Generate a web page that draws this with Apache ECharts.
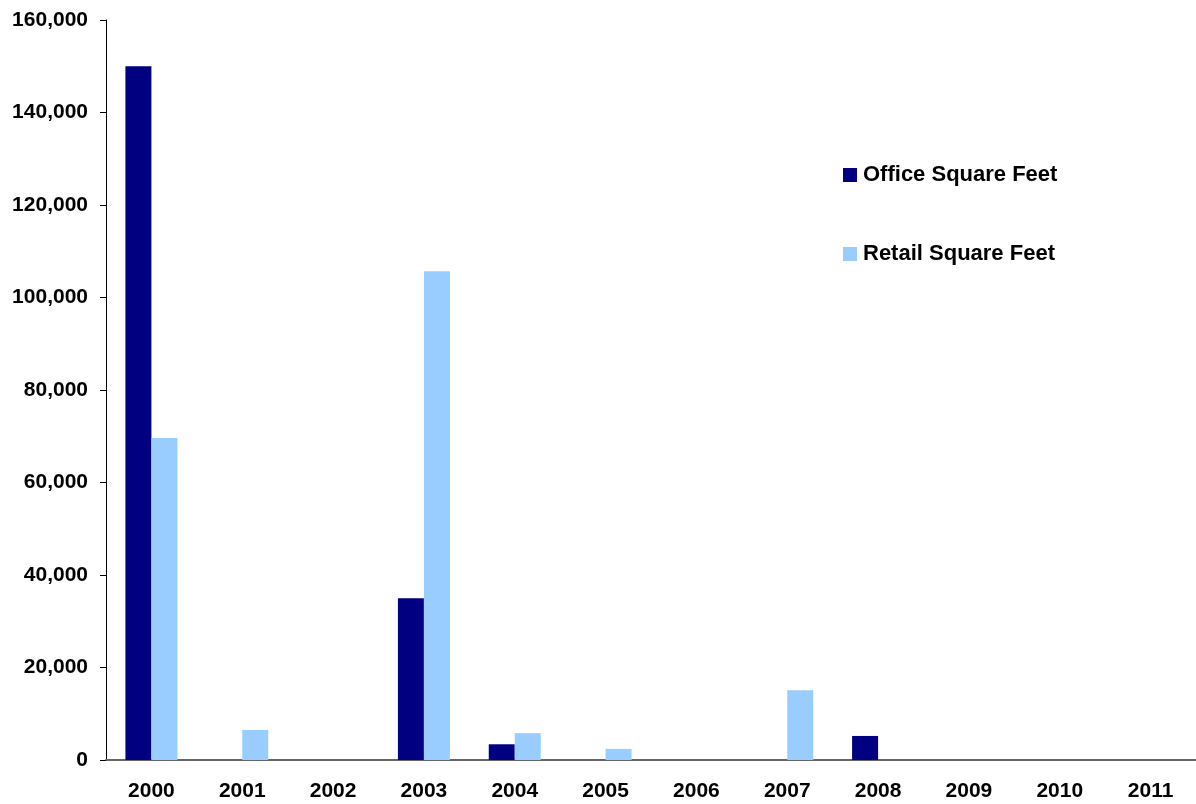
<!DOCTYPE html>
<html>
<head>
<meta charset="utf-8">
<script src="https://cdn.jsdelivr.net/npm/echarts@6/dist/echarts.min.js"></script>
<style>
  html, body { margin: 0; padding: 0; background: #fff; }
  #chart { width: 1196px; height: 804px; }
</style>
</head>
<body>
<div id="chart"></div>
<script>
// years on the x axis
var years = ['2000', '2001', '2002', '2003', '2004', '2005', '2006', '2007', '2008', '2009', '2010', '2011'];
// square feet per year
var office_sf = [150000, 0, 0, 35000, 3400, 0, 0, 0, 5200, 0, 0, 0];
var retail_sf = [69600, 6500, 0, 105700, 5800, 2400, 0, 15100, 0, 0, 0, 0];

var font = 'Liberation Sans, Arial, sans-serif';

function commas(v) {
    return String(v).replace(/\B(?=(\d{3})+(?!\d))/g, ',');
}

var option = {
    backgroundColor: '#fff',
    animation: false,
    grid: {
        left: 106,
        right: -6,
        top: 20,
        bottom: 44
    },
    legend: {
        orient: 'vertical',
        left: 843,
        top: 164,
        padding: 0,
        itemGap: 57,
        itemWidth: 14,
        itemHeight: 14,
        icon: 'rect',
        textStyle: {
            fontFamily: font,
            fontWeight: 'bold',
            fontSize: 22,
            color: '#000',
            padding: [0, 0, 0, 1]
        },
        data: ['Office Square Feet', 'Retail Square Feet']
    },
    xAxis: {
        type: 'category',
        data: years,
        axisLine: { lineStyle: { color: '#666', width: 2 } },
        axisTick: { show: false },
        axisLabel: {
            fontFamily: font,
            fontWeight: 'bold',
            fontSize: 21,
            color: '#000',
            margin: 21
        }
    },
    yAxis: {
        type: 'value',
        min: 0,
        max: 160000,
        interval: 20000,
        splitLine: { show: false },
        axisLine: { show: true, lineStyle: { color: '#000', width: 1 } },
        axisTick: { show: true, length: 6, lineStyle: { color: '#000' } },
        axisLabel: {
            fontFamily: font,
            fontWeight: 'bold',
            fontSize: 21,
            color: '#000',
            margin: 18,
            formatter: commas
        }
    },
    series: [
        {
            name: 'Office Square Feet',
            type: 'bar',
            data: office_sf,
            barWidth: 26,
            barGap: 0,
            itemStyle: { color: '#000080' }
        },
        {
            name: 'Retail Square Feet',
            type: 'bar',
            data: retail_sf,
            barWidth: 26,
            barGap: 0,
            itemStyle: { color: '#99ccff' }
        }
    ]
};

var chart = echarts.init(document.getElementById('chart'), null, {renderer: 'canvas'});
chart.setOption(option);
</script>
</body>
</html>
